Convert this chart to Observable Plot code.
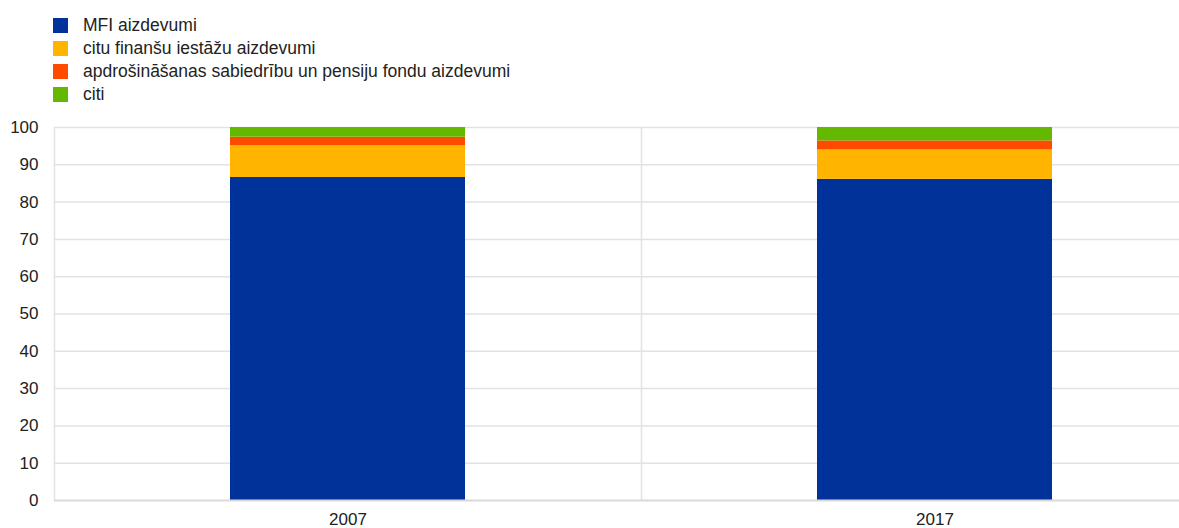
<!DOCTYPE html>
<html>
<head>
<meta charset="utf-8">
<script src="https://cdn.jsdelivr.net/npm/d3@7"></script>
<script src="https://cdn.jsdelivr.net/npm/@observablehq/plot@0.6"></script>
<style>
  html, body { margin: 0; padding: 0; background: #fff; overflow: hidden; }
  body { width: 1179px; height: 528px; font-family: "Liberation Sans", Arial, sans-serif; }
  #legend { height: 110px; box-sizing: border-box; padding: 14px 0 0 53px; }
  .item { display: flex; align-items: center; height: 23px; font-size: 17.5px; color: #222; }
  .sw { width: 15px; height: 15px; margin-right: 15px; flex: none; }
  svg { display: block; }
</style>
</head>
<body>
<div id="legend"></div>
<div id="chart"></div>
<script>
const years = ["2007", "2017"];
const series = [
  "MFI aizdevumi",
  "citu finanšu iestāžu aizdevumi",
  "apdrošināšanas sabiedrību un pensiju fondu aizdevumi",
  "citi"
];
const colors = ["#003299", "#FFB400", "#FF4B00", "#65B800"];
const mfiLoans = [86.6, 86.1];
const ofiLoans = [8.5, 7.9];
const icpfLoans = [2.3, 2.4];
const otherLoans = [2.6, 3.6];
const yTicks = [0, 10, 20, 30, 40, 50, 60, 70, 80, 90, 100];

const valuesBySeries = [mfiLoans, ofiLoans, icpfLoans, otherLoans];
const data = [];
series.forEach((s, i) => {
  years.forEach((y, j) => data.push({year: y, series: s, value: valuesBySeries[i][j]}));
});

// legend
const legend = document.getElementById("legend");
series.forEach((s, i) => {
  const it = document.createElement("div");
  it.className = "item";
  it.innerHTML = `<span class="sw" style="background:${colors[i]}"></span><span>${s}</span>`;
  legend.appendChild(it);
});

const xRange = [54, 1228];
const step = (xRange[1] - xRange[0]) / years.length;

const chart = Plot.plot({
  width: 1179,
  height: 418,
  marginLeft: 54,
  marginRight: 0,
  marginTop: 17,
  marginBottom: 28,
  style: {fontFamily: "Liberation Sans, Arial, sans-serif", fontSize: "17px", color: "#222", background: "#fff"},
  x: {domain: years, range: xRange, paddingInner: 0.6, paddingOuter: 0.3, label: null},
  y: {domain: [0, 100], ticks: yTicks, label: null},
  color: {domain: series, range: colors},
  marks: [
    Plot.ruleY(yTicks.filter(d => d > 0), {stroke: "#e2e2e2", strokeWidth: 1.5}),
    Plot.ruleX(years, {x: d => d, dx: step / 2, y1: 0, y2: 100, stroke: "#e2e2e2", strokeWidth: 1.5}),
    Plot.frame({anchor: "left", stroke: "#e2e2e2", strokeWidth: 1.5}),
    Plot.barY(data, {x: "year", y: "value", fill: "series", order: series}),
    Plot.ruleY([0], {stroke: "#d9d9d9", strokeWidth: 2}),
    Plot.axisY({ticks: yTicks, tickSize: 0, tickPadding: 16, fontSize: 17, label: null}),
    Plot.axisX({tickSize: 0, tickPadding: 12, fontSize: 17, label: null})
  ]
});
document.getElementById("chart").appendChild(chart);
</script>
</body>
</html>
